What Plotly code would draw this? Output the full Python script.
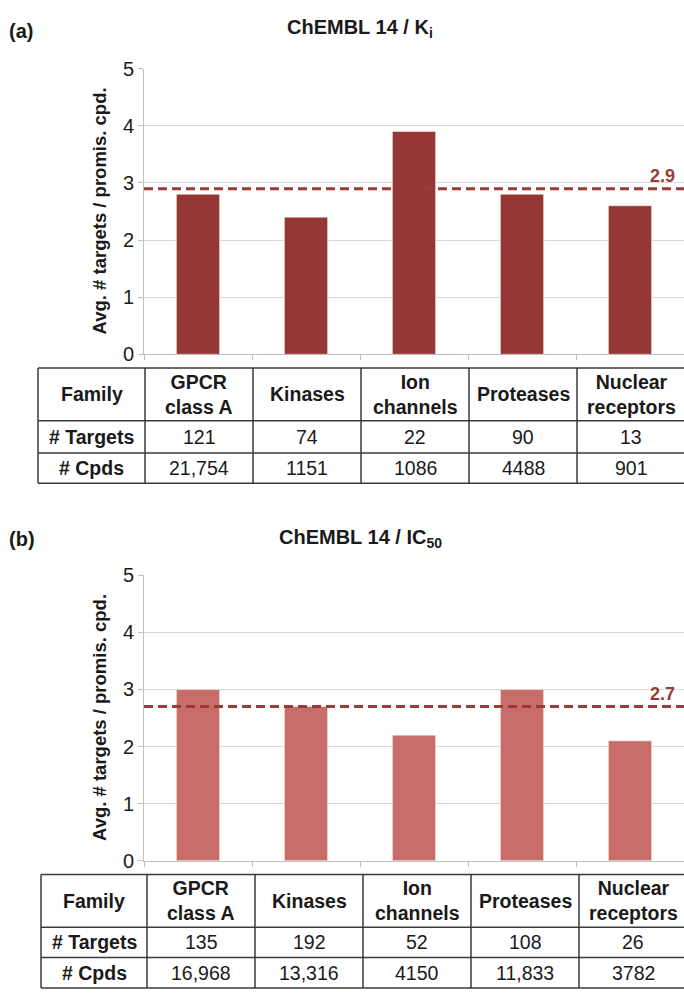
import plotly.graph_objects as go

# ---------------- data ----------------
families = ["GPCR class A", "Kinases", "Ion channels", "Proteases", "Nuclear receptors"]
family_headers = ["GPCR<br>class A", "Kinases", "Ion<br>channels", "Proteases", "Nuclear<br>receptors"]

ki_avg_targets = [2.8, 2.4, 3.9, 2.8, 2.6]
ki_mean = 2.9
ki_n_targets = ["121", "74", "22", "90", "13"]
ki_n_cpds = ["21,754", "1151", "1086", "4488", "901"]

ic50_avg_targets = [3.0, 2.7, 2.2, 3.0, 2.1]
ic50_mean = 2.7
ic50_n_targets = ["135", "192", "52", "108", "26"]
ic50_n_cpds = ["16,968", "13,316", "4150", "11,833", "3782"]

y_ticks = [0, 1, 2, 3, 4, 5]

# ---------------- styling ----------------
W, H = 684, 995
FONT = "Liberation Sans, Arial, sans-serif"
DARK = "#953735"
LIGHT = "#C96D6A"
MEAN_COLOR = "#993B39"
TXT = "#1a1a1a"
GRID = "#d9d9d9"
AXIS = "#bfbfbf"
TABLE_LINE = "#3a3a3a"


def px(x):
    return x / W


def py(y):
    return 1 - y / H


fig = go.Figure()

panels = [
    dict(xa="x", ya="y", vals=ki_avg_targets, mean=ki_mean, color=DARK,
         title="ChEMBL 14 / K<sub>i</sub>", tag="(a)", title_y=18, tag_y=20,
         top=59, bottom=351,
         tcols=[38, 145, 253, 361, 469, 577, 685], trows=[365, 419, 452, 483],
         n_t=ki_n_targets, n_c=ki_n_cpds),
    dict(xa="x2", ya="y2", vals=ic50_avg_targets, mean=ic50_mean, color=LIGHT,
         title="ChEMBL 14 / IC<sub>50</sub>", tag="(b)", title_y=539, tag_y=540,
         top=577, bottom=869,
         tcols=[41, 147, 255, 363, 471, 579, 687], trows=[883, 937, 968, 999],
         n_t=ic50_n_targets, n_c=ic50_n_cpds),
]

shapes = []
annotations = []
layout_axes = {}

for i, p in enumerate(panels):
    fig.add_trace(go.Bar(
        x=families, y=p["vals"], xaxis=p["xa"], yaxis=p["ya"],
        marker=dict(color=p["color"], line=dict(color="rgba(255,255,255,0.6)", width=0.8)),
        width=0.4, showlegend=False, hoverinfo="x+y",
    ))
    sfx = "" if i == 0 else "2"
    layout_axes["xaxis" + sfx] = dict(
        domain=[px(144), 1], range=[-0.5, 4.5], type="category",
        anchor=p["ya"], showticklabels=False, ticks="outside", ticklen=5,
        tickcolor=AXIS, tickson="boundaries", showgrid=False,
        showline=True, linecolor=AXIS, linewidth=1, zeroline=False, fixedrange=True,
    )
    layout_axes["yaxis" + sfx] = dict(
        domain=[py(p["bottom"]), py(p["top"])], range=[0, 5], tickvals=y_ticks,
        anchor=p["xa"], showgrid=True, gridcolor=GRID, gridwidth=1,
        showline=True, linecolor=AXIS, linewidth=1, ticks="outside", ticklen=5,
        tickcolor=AXIS, zeroline=False, fixedrange=True,
        tickfont=dict(family=FONT, size=20, color=TXT),
    )
    # mean line
    shapes.append(dict(type="line", xref="paper", yref=p["ya"],
                       x0=px(144), x1=1, y0=p["mean"], y1=p["mean"],
                       line=dict(color=MEAN_COLOR, width=3, dash="9px,5px"), layer="above"))
    annotations.append(dict(xref="paper", yref=p["ya"], x=px(677), y=p["mean"],
                            text="<b>%.1f</b>" % p["mean"], showarrow=False,
                            xanchor="right", yanchor="bottom", yshift=1,
                            font=dict(family=FONT, size=18, color=MEAN_COLOR)))
    # title + tag
    annotations.append(dict(xref="paper", yref="paper", x=px(360), y=py(p["title_y"]),
                            text="<b>" + p["title"] + "</b>", showarrow=False,
                            xanchor="center", yanchor="middle",
                            font=dict(family=FONT, size=20, color=TXT)))
    annotations.append(dict(xref="paper", yref="paper", x=px(7), y=py(p["tag_y"]),
                            text="<b>" + p["tag"] + "</b>", showarrow=False,
                            xanchor="left", yanchor="middle",
                            font=dict(family=FONT, size=20, color=TXT)))
    # y-axis title
    annotations.append(dict(xref="paper", yref="paper", x=px(99),
                            y=py((p["top"] + p["bottom"]) / 2),
                            text="<b>Avg. # targets / promis. cpd.</b>", showarrow=False,
                            textangle=-90, xanchor="center", yanchor="middle",
                            font=dict(family=FONT, size=18.5, color=TXT)))

    # table
    cols, rows = p["tcols"], p["trows"]
    for c in cols[:-1]:
        shapes.append(dict(type="line", xref="paper", yref="paper",
                           x0=px(c), x1=px(c), y0=py(rows[0]), y1=py(rows[-1]),
                           line=dict(color=TABLE_LINE, width=1.5)))
    for r in rows:
        shapes.append(dict(type="line", xref="paper", yref="paper",
                           x0=px(cols[0]), x1=px(cols[-1]), y0=py(r), y1=py(r),
                           line=dict(color=TABLE_LINE, width=1.5)))
    table_rows = [
        ["<b>Family</b>"] + ["<b>" + h + "</b>" for h in family_headers],
        ["<b># Targets</b>"] + p["n_t"],
        ["<b># Cpds</b>"] + p["n_c"],
    ]
    for ri, row in enumerate(table_rows):
        yc = (rows[ri] + rows[ri + 1]) / 2
        for ci, cell in enumerate(row):
            xc = (cols[ci] + cols[ci + 1]) / 2
            annotations.append(dict(xref="paper", yref="paper", x=px(xc), y=py(yc),
                                    text=cell, showarrow=False,
                                    xanchor="center", yanchor="middle",
                                    font=dict(family=FONT, size=19.5, color=TXT)))

fig.update_layout(
    width=W, height=H,
    margin=dict(l=0, r=0, t=0, b=0),
    paper_bgcolor="white", plot_bgcolor="white",
    shapes=shapes, annotations=annotations,
    bargap=0.6, showlegend=False,
    font=dict(family=FONT, color=TXT),
    **layout_axes,
)

fig.write_html("out.html")
